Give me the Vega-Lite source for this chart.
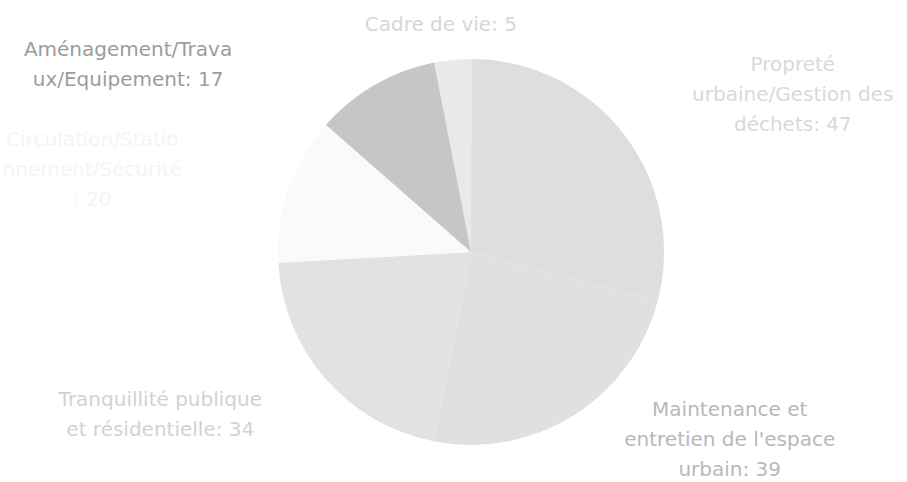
{
  "$schema": "https://vega.github.io/schema/vega-lite/v6.json",
  "autosize": {"type": "none"},
  "width": 872,
  "height": 460,
  "padding": {"left": 35, "top": 22, "right": 0, "bottom": 0},
  "background": "#ffffff",
  "view": {"stroke": null},
  "config": {"text": {"font": "DejaVu Sans", "fontSize": 20, "lineHeight": 30, "align": "center", "baseline": "middle", "lineBreak": "\n"}},
  "data": {
    "values": [
      {"rang": 1, "categorie": "Cadre de vie", "valeur": 5, "libelle": "Cadre de vie: 5"},
      {"rang": 2, "categorie": "Propreté urbaine/Gestion des déchets", "valeur": 47, "libelle": "Propreté\nurbaine/Gestion des\ndéchets: 47"},
      {"rang": 3, "categorie": "Maintenance et entretien de l'espace urbain", "valeur": 39, "libelle": "Maintenance et\nentretien de l'espace\nurbain: 39"},
      {"rang": 4, "categorie": "Tranquillité publique et résidentielle", "valeur": 34, "libelle": "Tranquillité publique\net résidentielle: 34"},
      {"rang": 5, "categorie": "Circulation/Stationnement/Sécurité", "valeur": 20, "libelle": "Circulation/Statio\nnnement/Sécurité\n: 20"},
      {"rang": 6, "categorie": "Aménagement/Travaux/Equipement", "valeur": 17, "libelle": "Aménagement/Trava\nux/Equipement: 17"}
    ]
  },
  "encoding": {
    "theta": {"field": "valeur", "type": "quantitative", "stack": true, "scale": {"range": [-0.192, 6.0912]}},
    "order": {"field": "rang", "type": "quantitative"}
  },
  "layer": [
    {
      "mark": {"type": "arc", "radius": 193, "stroke": null},
      "encoding": {
        "color": {
          "field": "categorie", "type": "nominal", "legend": null,
          "scale": {
            "domain": ["Cadre de vie", "Propreté urbaine/Gestion des déchets", "Maintenance et entretien de l'espace urbain", "Tranquillité publique et résidentielle", "Circulation/Stationnement/Sécurité", "Aménagement/Travaux/Equipement"],
            "range": ["#e9e9e9", "#dedede", "#e0e0e0", "#e2e2e2", "#fafafa", "#c6c6c6"]
          }
        }
      }
    },
    {
      "mark": {"type": "text", "radius": 229, "thetaOffset": -0.037, "color": "#d6d6d6"},
      "encoding": {"detail": {"field": "categorie"}, "text": {"condition": {"test": "datum.rang === 1", "field": "libelle"}, "value": ""}}
    },
    {
      "mark": {"type": "text", "radius": 372, "thetaOffset": 0.132, "color": "#d9d9d9"},
      "encoding": {"detail": {"field": "categorie"}, "text": {"condition": {"test": "datum.rang === 2", "field": "libelle"}, "value": ""}}
    },
    {
      "mark": {"type": "text", "radius": 303, "thetaOffset": -0.463, "color": "#b8b8b8"},
      "encoding": {"detail": {"field": "categorie"}, "text": {"condition": {"test": "datum.rang === 3", "field": "libelle"}, "value": ""}}
    },
    {
      "mark": {"type": "text", "radius": 344, "thetaOffset": 0.272, "color": "#d2d2d2"},
      "encoding": {"detail": {"field": "categorie"}, "text": {"condition": {"test": "datum.rang === 4", "field": "libelle"}, "value": ""}}
    },
    {
      "mark": {"type": "text", "radius": 395, "thetaOffset": -0.044, "color": "#f4f4f4"},
      "encoding": {"detail": {"field": "categorie"}, "text": {"condition": {"test": "datum.rang === 5", "field": "libelle"}, "value": ""}}
    },
    {
      "mark": {"type": "text", "radius": 398, "thetaOffset": -0.517, "color": "#9c9c9c"},
      "encoding": {"detail": {"field": "categorie"}, "text": {"condition": {"test": "datum.rang === 6", "field": "libelle"}, "value": ""}}
    }
  ]
}
